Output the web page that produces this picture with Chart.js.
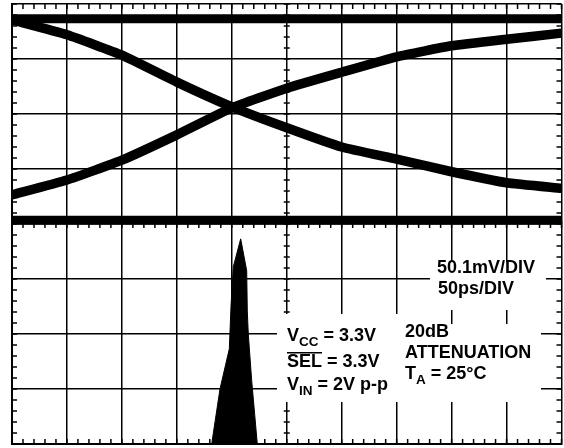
<!DOCTYPE html>
<html>
<head>
<meta charset="utf-8">
<script src="https://cdn.jsdelivr.net/npm/chart.js@4.4.1/dist/chart.umd.min.js"></script>
<style>
  html, body { margin: 0; padding: 0; background: #fff; }
  #wrap { width: 564px; height: 448px; }
</style>
</head>
<body>
<div id="wrap"><canvas id="eyeChart"></canvas></div>
<script>
// time axis in divisions (50ps/DIV), voltage axis in divisions (50.1mV/DIV), 0 = screen centre
const traceX = [0, 1, 2, 3, 4, 5, 6, 7, 8, 9, 10];
const fallingY = [3.71, 3.44, 3.07, 2.58, 2.13, 1.75, 1.40, 1.18, 0.95, 0.75, 0.65];
const risingY = [0.53, 0.80, 1.16, 1.62, 2.11, 2.47, 2.76, 3.04, 3.24, 3.36, 3.47];

// flat levels of the eye
const highLevel = 3.73;
const lowLevel = 0.07;

// jitter histogram in the lower half
const histX = [3.634, 3.785, 3.955, 3.985, 4.027, 4.162, 4.271, 4.282, 4.300, 4.362, 4.464];
const histY = [-4, -3.0, -2.27, -1.51, -0.78, -0.27, -0.85, -1.58, -2.0, -2.85, -4];

const xDivs = 10;
const yDivs = 8;

function pts(xs, ys) { return xs.map((v, i) => ({ x: v, y: ys[i] })); }

const scopeDecor = {
    id: 'scopeDecor',
    afterDatasetsDraw(chart) {
        const { ctx, chartArea: a, scales: { x, y } } = chart;
        const cx = x.getPixelForValue(xDivs / 2);
        const cy = y.getPixelForValue(0);
        ctx.save();
        // minor ticks, 5 per division
        ctx.strokeStyle = '#000';
        ctx.lineWidth = 1.5;
        ctx.beginPath();
        for (let i = 0; i <= xDivs * 5; i++) {
            const px = x.getPixelForValue(i / 5);
            ctx.moveTo(px, a.top); ctx.lineTo(px, a.top + 5);
            ctx.moveTo(px, a.bottom); ctx.lineTo(px, a.bottom - 5);
            ctx.moveTo(px, cy - 3); ctx.lineTo(px, cy + 4);
        }
        for (let j = 0; j <= yDivs * 5; j++) {
            const py = y.getPixelForValue(-yDivs / 2 + j / 5);
            ctx.moveTo(a.left, py); ctx.lineTo(a.left + 5, py);
            ctx.moveTo(a.right, py); ctx.lineTo(a.right - 5, py);
            ctx.moveTo(cx - 3, py); ctx.lineTo(cx + 3, py);
        }
        ctx.stroke();

        // white boxes behind the notes
        ctx.fillStyle = '#fff';
        ctx.fillRect(430, 262, 116, 48);
        ctx.fillRect(277, 314, 123, 88);
        ctx.fillRect(400, 324, 141, 78);

        ctx.fillStyle = '#000';
        ctx.textBaseline = 'alphabetic';
        const big = 'bold 18px "Liberation Sans", Arial, sans-serif';
        const small = 'bold 13.5px "Liberation Sans", Arial, sans-serif';
        function rich(parts, px, py) {
            let cur = px;
            parts.forEach(([t, sub]) => {
                ctx.font = sub ? small : big;
                ctx.fillText(t, cur, sub ? py + 4.5 : py);
                cur += ctx.measureText(t).width;
            });
        }
        rich([['50.1mV/DIV']], 437, 273);
        rich([['50ps/DIV']], 438, 294);

        rich([['V'], ['CC', true], [' = 3.3V']], 287, 341);
        ctx.font = big;
        const selW = ctx.measureText('SEL').width;
        rich([['SEL = 3.3V']], 287, 367);
        ctx.fillRect(287, 352, selW, 1.5);
        rich([['V'], ['IN', true], [' = 2V p-p']], 287, 390);

        rich([['20dB']], 405, 337);
        rich([['ATTENUATION']], 405, 358);
        rich([['T'], ['A', true], [' = 25°C']], 405, 379);
        ctx.restore();
    }
};

const ctx = document.getElementById('eyeChart').getContext('2d');
const eyeChart = new Chart(ctx, {
    type: 'line',
    data: {
        datasets: [
            {
                data: pts(traceX, fallingY),
                borderColor: '#000', borderWidth: 9.5, pointRadius: 0,
                tension: 0.15
            },
            {
                data: pts(traceX, risingY),
                borderColor: '#000', borderWidth: 9.5, pointRadius: 0,
                tension: 0.15
            },
            {
                data: [{ x: 0, y: highLevel }, { x: xDivs, y: highLevel }],
                borderColor: '#000', borderWidth: 9, pointRadius: 0, borderCapStyle: 'butt'
            },
            {
                data: [{ x: 0, y: lowLevel }, { x: xDivs, y: lowLevel }],
                borderColor: '#000', borderWidth: 9, pointRadius: 0, borderCapStyle: 'butt'
            },
            {
                data: pts(histX, histY),
                borderColor: '#000', borderWidth: 1, backgroundColor: '#000',
                pointRadius: 0, fill: 'start', tension: 0
            }
        ]
    },
    options: {
        responsive: true,
        maintainAspectRatio: false,
        animation: false,
        layout: { padding: { left: 12, right: 2.5, top: 4, bottom: 4 } },
        plugins: {
            legend: { display: false },
            tooltip: { enabled: false }
        },
        scales: {
            x: {
                type: 'linear', min: 0, max: xDivs,
                ticks: { display: false, stepSize: 1 },
                grid: { color: '#000', lineWidth: 1.5, drawTicks: false },
                border: { color: '#000', width: 2 }
            },
            y: {
                type: 'linear', min: -yDivs / 2, max: yDivs / 2,
                ticks: { display: false, stepSize: 1 },
                grid: { color: '#000', lineWidth: 1.5, drawTicks: false },
                border: { color: '#000', width: 2 }
            }
        }
    },
    plugins: [scopeDecor]
});
</script>
</body>
</html>
